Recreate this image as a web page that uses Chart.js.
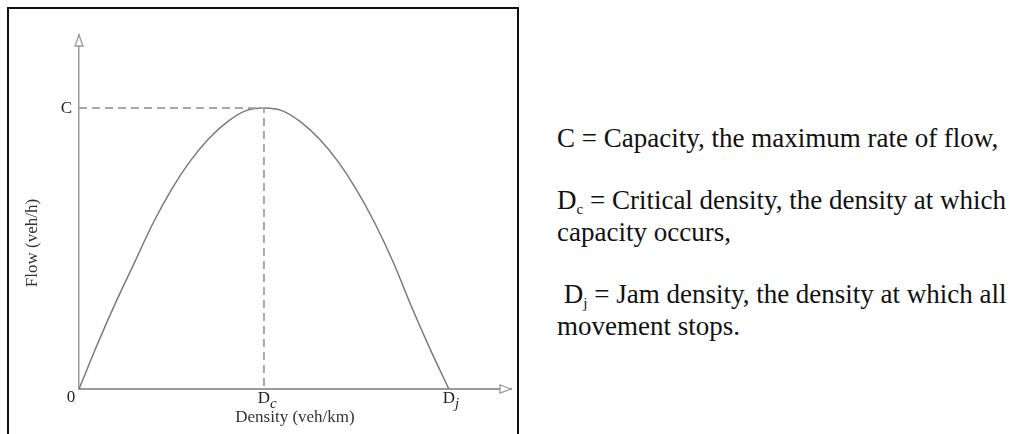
<!DOCTYPE html>
<html lang="en">
<head>
<meta charset="UTF-8">
<title>Flow - Density Relationship</title>
<style>
    body {
        margin: 0;
        background: #fff;
        font-family: 'Liberation Serif', 'Times New Roman', serif;
        color: #111;
    }
    .frame {
        position: absolute;
        left: 7px;
        top: 7px;
        width: 508px;
        height: 440px;
        border: 2px solid #111;
    }
    #chartWrap {
        position: absolute;
        left: 0;
        top: 0;
        width: 520px;
        height: 434px;
    }
    .notes {
        position: absolute;
        left: 557px;
        top: 122px;
        width: 452px;
        font-size: 27px;
        line-height: 32px;
    }
    .notes p {
        margin: 0 0 30px 0;
        white-space: nowrap;
    }
    .notes sub {
        font-size: 15px;
        vertical-align: -5px;
        line-height: 0;
    }
</style>
</head>
<body>

<div id="chartWrap"><canvas id="fdChart" width="520" height="434"></canvas></div>
<div class="frame"></div>

<div class="notes">
    <p>C = Capacity, the maximum rate of flow,</p>
    <p>D<sub>c</sub> = Critical density, the density at which<br>capacity occurs,</p>
    <p>&nbsp;D<sub>j</sub> = Jam density, the density at which all<br>movement stops.</p>
</div>

<script src="https://cdn.jsdelivr.net/npm/chart.js"></script>
<script>
    // density (arbitrary units, jam density = 100) and flow (capacity = 100)
    const density = [0, 5, 10, 15, 20, 25, 30, 35, 40, 45, 50, 55, 60, 65, 70, 75, 80, 85, 90, 95, 100];
    const flow    = [0, 16, 31, 45, 59, 71, 81, 89, 95, 99, 100, 99, 95, 89, 81, 71, 59, 45, 29, 14, 0];

    // guide lines to the capacity point
    const guideX = [0, 50, 50];
    const guideY = [100, 100, 0];

    // axis markers
    const xTickVals = [50, 100];
    const xTickText = ['D', 'D'];
    const xTickSub  = ['c', 'j'];
    const yTickVals = [100];
    const yTickText = ['C'];
    const originLabel = '0';
    const yTitle = 'Flow (veh/h)';

    const xMax = 116.8;
    const yMax = 126;

    const serif = "'Liberation Serif', 'Times New Roman', serif";
    const axisGrey = '#9a9a9a';

    const toPoints = (xs, ys) => xs.map((x, i) => ({ x: x, y: ys[i] }));

    // arrows on the axes, tick labels with subscripts, y title (sits low in the original)
    const axisDecor = {
        id: 'axisDecor',
        afterDraw(chart) {
            const ctx = chart.ctx;
            const xs = chart.scales.x, ys = chart.scales.y;
            const ox = xs.getPixelForValue(0), oy = ys.getPixelForValue(0);
            const tipX = xs.getPixelForValue(xMax), tipY = ys.getPixelForValue(yMax);

            ctx.save();
            ctx.strokeStyle = axisGrey;
            ctx.fillStyle = '#fff';
            ctx.lineWidth = 1.3;
            ctx.beginPath();
            ctx.moveTo(ox, tipY);
            ctx.lineTo(ox - 4, tipY + 11);
            ctx.lineTo(ox + 4, tipY + 11);
            ctx.closePath();
            ctx.fill();
            ctx.stroke();
            ctx.beginPath();
            ctx.moveTo(tipX, oy);
            ctx.lineTo(tipX - 11, oy - 4);
            ctx.lineTo(tipX - 11, oy + 4);
            ctx.closePath();
            ctx.fill();
            ctx.stroke();

            ctx.fillStyle = '#222';
            ctx.textBaseline = 'middle';
            ctx.font = '17px ' + serif;
            ctx.textAlign = 'center';
            ctx.fillText(originLabel, ox - 8, oy + 9);

            xTickVals.forEach((v, i) => {
                const px = xs.getPixelForValue(v);
                ctx.font = '17px ' + serif;
                ctx.textAlign = 'center';
                ctx.fillText(xTickText[i], px, oy + 10);
                const w = ctx.measureText(xTickText[i]).width;
                ctx.font = 'italic 15px ' + serif;
                ctx.textAlign = 'left';
                ctx.fillText(xTickSub[i], px + w / 2, oy + 15);
            });

            yTickVals.forEach((v, i) => {
                const py = ys.getPixelForValue(v);
                ctx.font = '17px ' + serif;
                ctx.textAlign = 'right';
                ctx.fillText(yTickText[i], ox - 7, py);
            });

            ctx.translate(33, 243);
            ctx.rotate(-Math.PI / 2);
            ctx.fillStyle = '#333';
            ctx.font = '17px ' + serif;
            ctx.textAlign = 'center';
            ctx.fillText(yTitle, 0, 0);
            ctx.restore();
        }
    };

    const fdConfig = {
        type: 'scatter',
        data: {
            datasets: [
                {
                    label: 'Guide',
                    data: toPoints(guideX, guideY),
                    showLine: true,
                    borderColor: '#a8a8a8',
                    borderWidth: 2,
                    borderDash: [8, 5],
                    pointRadius: 0,
                    fill: false
                },
                {
                    label: 'Flow',
                    data: toPoints(density, flow),
                    showLine: true,
                    borderColor: '#7a7a7a',
                    borderWidth: 1.5,
                    cubicInterpolationMode: 'monotone',
                    pointRadius: 0,
                    fill: false
                }
            ]
        },
        options: {
            responsive: false,
            animation: false,
            devicePixelRatio: 1,
            layout: {
                padding: { left: 79, top: 35, right: 9, bottom: 0 }
            },
            plugins: {
                legend: { display: false },
                tooltip: { enabled: false }
            },
            scales: {
                x: {
                    type: 'linear',
                    min: 0,
                    max: xMax,
                    grid: { display: false, drawTicks: false },
                    border: { display: true, color: axisGrey, width: 2 },
                    ticks: { display: false },
                    title: {
                        display: true,
                        text: 'Density (veh/km)',
                        color: '#333',
                        font: { family: serif, size: 17 },
                        padding: { top: 18.8, bottom: 5.8 }
                    }
                },
                y: {
                    type: 'linear',
                    min: 0,
                    max: yMax,
                    grid: { display: false, drawTicks: false },
                    border: { display: true, color: axisGrey, width: 1.5 },
                    ticks: { display: false }
                }
            }
        },
        plugins: [axisDecor]
    };

    window.onload = function() {
        const ctx = document.getElementById('fdChart').getContext('2d');
        window.fdChart = new Chart(ctx, fdConfig);
    };
</script>

</body>
</html>
